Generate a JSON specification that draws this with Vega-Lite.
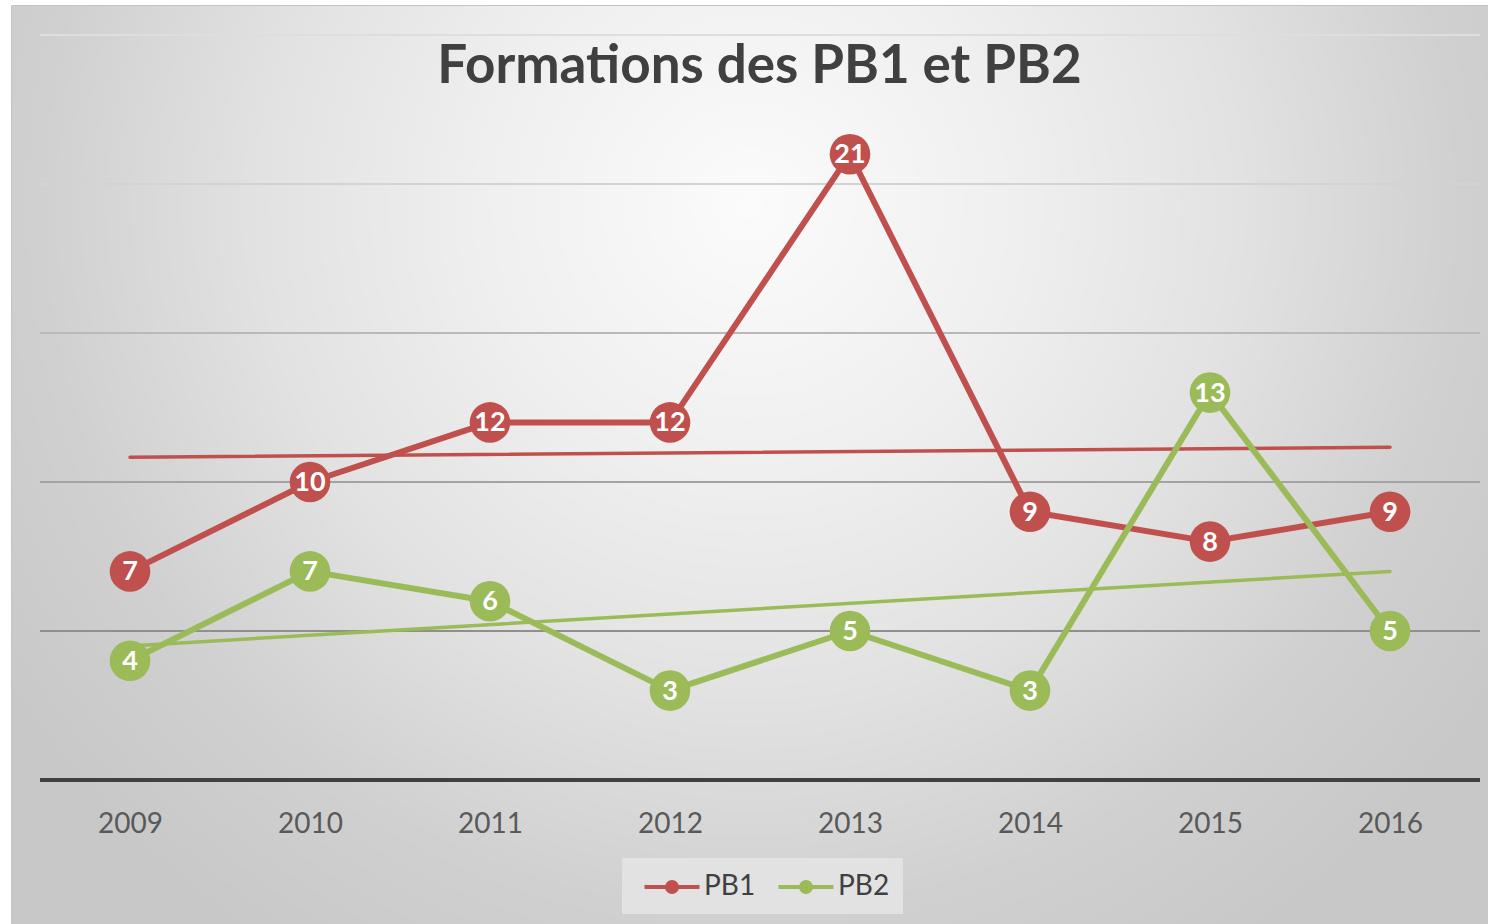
{
  "$schema": "https://vega.github.io/schema/vega-lite/v6.json",
  "width": 1477,
  "height": 919,
  "autosize": {"type": "none"},
  "padding": {"left": 11, "top": 5, "right": 0, "bottom": 0},
  "background": "white",
  "config": {
    "font": "Lato",
    "view": {
      "fill": {
        "gradient": "radial",
        "x1": 0.5, "y1": 0.324, "r1": 0,
        "x2": 0.5, "y2": 0.324, "r2": 0.6,
        "stops": [
          {"offset": 0, "color": "#fbfbfb"},
          {"offset": 0.3, "color": "#efefef"},
          {"offset": 0.55, "color": "#e2e2e2"},
          {"offset": 0.8, "color": "#d0d0d0"},
          {"offset": 1, "color": "#c8c8c8"}
        ]
      },
      "stroke": "#c4c4c4",
      "strokeWidth": 1
    }
  },
  "title": {
    "text": "Formations des PB1 et PB2",
    "font": "Lato",
    "fontSize": 53,
    "fontWeight": "bold",
    "color": "#404040",
    "anchor": "middle",
    "frame": "group",
    "offset": 0,
    "baseline": "alphabetic",
    "dx": 10,
    "dy": 131
  },
  "datasets": {
    "series": [
      {"year": 2009, "series": "PB1", "value": 7},
      {"year": 2010, "series": "PB1", "value": 10},
      {"year": 2011, "series": "PB1", "value": 12},
      {"year": 2012, "series": "PB1", "value": 12},
      {"year": 2013, "series": "PB1", "value": 21},
      {"year": 2014, "series": "PB1", "value": 9},
      {"year": 2015, "series": "PB1", "value": 8},
      {"year": 2016, "series": "PB1", "value": 9},
      {"year": 2009, "series": "PB2", "value": 4},
      {"year": 2010, "series": "PB2", "value": 7},
      {"year": 2011, "series": "PB2", "value": 6},
      {"year": 2012, "series": "PB2", "value": 3},
      {"year": 2013, "series": "PB2", "value": 5},
      {"year": 2014, "series": "PB2", "value": 3},
      {"year": 2015, "series": "PB2", "value": 13},
      {"year": 2016, "series": "PB2", "value": 5}
    ],
    "grid": [{"v": 0}, {"v": 5}, {"v": 10}, {"v": 15}, {"v": 20}, {"v": 25}]
  },
  "layer": [
    {
      "data": {"name": "grid"},
      "mark": {"type": "rule"},
      "encoding": {
        "y": {"field": "v", "type": "quantitative", "scale": {"domain": [-4.832, 26.0067], "nice": false, "zero": false}, "axis": null},
        "x": {"datum": 2008.5, "type": "quantitative", "scale": {"domain": [2008.3389, 2016.5444], "nice": false, "zero": false},
          "axis": {"title": null, "values": [2009, 2010, 2011, 2012, 2013, 2014, 2015, 2016], "format": "d", "domain": false, "ticks": false, "tickSize": 0, "grid": false, "labelFontSize": 28, "labelColor": "#595959", "labelFont": "Lato", "labelPadding": 0, "labelBaseline": "middle", "offset": -100, "labelFlush": false, "labelOverlap": false}},
        "x2": {"datum": 2016.5},
        "stroke": {"condition": [
          {"test": "datum.v == 0", "value": "#404040"},
          {"test": "datum.v == 5", "value": "#8f8f8f"},
          {"test": "datum.v == 10", "value": "#a3a3a3"},
          {"test": "datum.v == 15", "value": "#b9b9b9"},
          {"test": "datum.v == 20", "value": "#d3d3d3"}
        ], "value": "#dedede"},
        "strokeWidth": {"condition": {"test": "datum.v == 0", "value": 4}, "value": 2}
      }
    },
    {
      "data": {"name": "series"},
      "transform": [{"regression": "value", "on": "year", "groupby": ["series"]}],
      "mark": {"type": "line", "strokeWidth": 3.5, "strokeCap": "round"},
      "encoding": {
        "x": {"field": "year", "type": "quantitative", "scale": {"domain": [2008.3389, 2016.5444], "nice": false, "zero": false},
          "axis": {"title": null, "values": [2009, 2010, 2011, 2012, 2013, 2014, 2015, 2016], "format": "d", "domain": false, "ticks": false, "tickSize": 0, "grid": false, "labelFontSize": 28, "labelColor": "#595959", "labelFont": "Lato", "labelPadding": 0, "labelBaseline": "middle", "offset": -100, "labelFlush": false, "labelOverlap": false}},
        "y": {"field": "value", "type": "quantitative", "scale": {"domain": [-4.832, 26.0067], "nice": false, "zero": false}, "axis": null},
        "color": {"field": "series", "type": "nominal", "scale": {"domain": ["PB1", "PB2"], "range": ["#c0504d", "#9bbb59"]},
          "legend": {"title": null, "orient": "none", "legendX": 611, "legendY": 853, "direction": "horizontal", "fillColor": "#e2e2e2", "padding": 13,
            "symbolType": "M-2,0H2M-0.36,0A0.36,0.36 0 1,0 0.36,0A0.36,0.36 0 1,0 -0.36,0Z", "symbolSize": 756, "symbolStrokeWidth": 4, "symbolOffset": 21, "labelOffset": 16, "columnPadding": 13,
            "labelFontSize": 28, "labelFont": "Lato", "labelColor": "#404040",
            "encode": {"symbols": {"update": {"fill": {"scale": "color", "field": "value"}, "stroke": {"scale": "color", "field": "value"}, "strokeWidth": {"value": 4}, "opacity": {"value": 1}}}}}}
      }
    },
    {
      "data": {"name": "series"},
      "mark": {"type": "line", "strokeWidth": 6, "strokeJoin": "round"},
      "encoding": {
        "x": {"field": "year", "type": "quantitative", "scale": {"domain": [2008.3389, 2016.5444], "nice": false, "zero": false},
          "axis": {"title": null, "values": [2009, 2010, 2011, 2012, 2013, 2014, 2015, 2016], "format": "d", "domain": false, "ticks": false, "tickSize": 0, "grid": false, "labelFontSize": 28, "labelColor": "#595959", "labelFont": "Lato", "labelPadding": 0, "labelBaseline": "middle", "offset": -100, "labelFlush": false, "labelOverlap": false}},
        "y": {"field": "value", "type": "quantitative", "scale": {"domain": [-4.832, 26.0067], "nice": false, "zero": false}, "axis": null},
        "color": {"field": "series", "type": "nominal", "scale": {"domain": ["PB1", "PB2"], "range": ["#c0504d", "#9bbb59"]},
          "legend": {"title": null, "orient": "none", "legendX": 611, "legendY": 853, "direction": "horizontal", "fillColor": "#e2e2e2", "padding": 13,
            "symbolType": "M-2,0H2M-0.36,0A0.36,0.36 0 1,0 0.36,0A0.36,0.36 0 1,0 -0.36,0Z", "symbolSize": 756, "symbolStrokeWidth": 4, "symbolOffset": 21, "labelOffset": 16, "columnPadding": 13,
            "labelFontSize": 28, "labelFont": "Lato", "labelColor": "#404040",
            "encode": {"symbols": {"update": {"fill": {"scale": "color", "field": "value"}, "stroke": {"scale": "color", "field": "value"}, "strokeWidth": {"value": 4}, "opacity": {"value": 1}}}}}}
      }
    },
    {
      "data": {"name": "series"},
      "mark": {"type": "circle", "size": 1650, "opacity": 1},
      "encoding": {
        "x": {"field": "year", "type": "quantitative", "scale": {"domain": [2008.3389, 2016.5444], "nice": false, "zero": false},
          "axis": {"title": null, "values": [2009, 2010, 2011, 2012, 2013, 2014, 2015, 2016], "format": "d", "domain": false, "ticks": false, "tickSize": 0, "grid": false, "labelFontSize": 28, "labelColor": "#595959", "labelFont": "Lato", "labelPadding": 0, "labelBaseline": "middle", "offset": -100, "labelFlush": false, "labelOverlap": false}},
        "y": {"field": "value", "type": "quantitative", "scale": {"domain": [-4.832, 26.0067], "nice": false, "zero": false}, "axis": null},
        "color": {"field": "series", "type": "nominal", "scale": {"domain": ["PB1", "PB2"], "range": ["#c0504d", "#9bbb59"]},
          "legend": {"title": null, "orient": "none", "legendX": 611, "legendY": 853, "direction": "horizontal", "fillColor": "#e2e2e2", "padding": 13,
            "symbolType": "M-2,0H2M-0.36,0A0.36,0.36 0 1,0 0.36,0A0.36,0.36 0 1,0 -0.36,0Z", "symbolSize": 756, "symbolStrokeWidth": 4, "symbolOffset": 21, "labelOffset": 16, "columnPadding": 13,
            "labelFontSize": 28, "labelFont": "Lato", "labelColor": "#404040",
            "encode": {"symbols": {"update": {"fill": {"scale": "color", "field": "value"}, "stroke": {"scale": "color", "field": "value"}, "strokeWidth": {"value": 4}, "opacity": {"value": 1}}}}}}
      }
    },
    {
      "data": {"name": "series"},
      "mark": {"type": "text", "font": "Lato", "fontSize": 27, "fontWeight": "bold", "align": "center", "baseline": "middle", "dy": 1},
      "encoding": {
        "x": {"field": "year", "type": "quantitative", "scale": {"domain": [2008.3389, 2016.5444], "nice": false, "zero": false},
          "axis": {"title": null, "values": [2009, 2010, 2011, 2012, 2013, 2014, 2015, 2016], "format": "d", "domain": false, "ticks": false, "tickSize": 0, "grid": false, "labelFontSize": 28, "labelColor": "#595959", "labelFont": "Lato", "labelPadding": 0, "labelBaseline": "middle", "offset": -100, "labelFlush": false, "labelOverlap": false}},
        "y": {"field": "value", "type": "quantitative", "scale": {"domain": [-4.832, 26.0067], "nice": false, "zero": false}, "axis": null},
        "text": {"field": "value", "type": "quantitative"},
        "color": {"value": "white"}
      }
    }
  ]
}
